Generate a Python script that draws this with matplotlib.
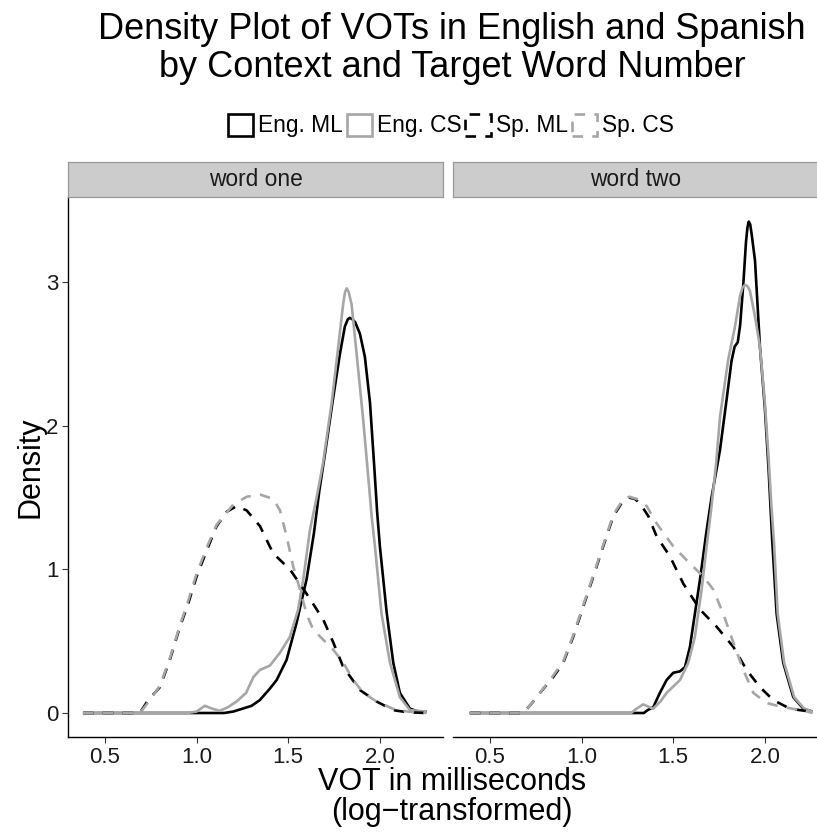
import matplotlib
matplotlib.use("Agg")
import matplotlib.pyplot as plt
from matplotlib.patches import Patch

plt.rcParams['font.family'] = ['Liberation Sans', 'DejaVu Sans']

# log VOT densities, panel "word one"
one_eng_ml_x = [0.38, 1.15, 1.20, 1.30, 1.345, 1.40, 1.437, 1.491, 1.546, 1.60, 1.64, 1.67, 1.70,
                1.74, 1.782, 1.809, 1.825, 1.836, 1.85, 1.865, 1.891, 1.918, 1.946, 1.97, 1.985,
                2.0, 2.037, 2.073, 2.109, 2.164, 2.21, 2.255]
one_eng_ml_y = [0.0, 0.0, 0.01, 0.05, 0.09, 0.17, 0.23, 0.37, 0.63, 0.93, 1.25, 1.55, 1.80,
                2.15, 2.50, 2.69, 2.74, 2.75, 2.74, 2.72, 2.64, 2.48, 2.16, 1.70, 1.40,
                1.16, 0.70, 0.35, 0.14, 0.03, 0.01, 0.01]

one_eng_cs_x = [0.38, 0.95, 1.00, 1.045, 1.085, 1.127, 1.17, 1.218, 1.27, 1.31, 1.346, 1.40, 1.455,
                1.509, 1.554, 1.582, 1.618, 1.655, 1.69, 1.737, 1.773, 1.80, 1.81, 1.819, 1.83,
                1.846, 1.873, 1.909, 1.936, 1.955, 1.973, 2.009, 2.055, 2.109, 2.164, 2.255]
one_eng_cs_y = [0.0, 0.0, 0.01, 0.05, 0.03, 0.015, 0.04, 0.08, 0.14, 0.25, 0.30, 0.33, 0.42,
                0.53, 0.72, 0.93, 1.27, 1.50, 1.74, 2.16, 2.55, 2.85, 2.93, 2.955, 2.93,
                2.84, 2.50, 2.04, 1.65, 1.37, 1.16, 0.69, 0.35, 0.11, 0.02, 0.01]

one_sp_ml_x = [0.38, 0.69, 0.736, 0.80, 0.854, 0.909, 0.954, 1.00, 1.055, 1.109, 1.164, 1.218,
               1.273, 1.346, 1.418, 1.509, 1.60, 1.691, 1.746, 1.80, 1.891, 1.982, 2.073, 2.15, 2.255]
one_sp_ml_y = [0.0, 0.0, 0.09, 0.18, 0.37, 0.60, 0.76, 0.95, 1.13, 1.30, 1.40, 1.44,
               1.41, 1.30, 1.11, 1.00, 0.83, 0.65, 0.49, 0.32, 0.16, 0.08, 0.02, 0.005, 0.0]

one_sp_cs_x = [0.38, 0.691, 0.745, 0.80, 0.854, 0.909, 0.954, 1.00, 1.055, 1.109, 1.20, 1.273,
               1.346, 1.418, 1.455, 1.491, 1.527, 1.564, 1.60, 1.636, 1.691, 1.746, 1.80, 1.855,
               1.909, 1.982, 2.07, 2.15, 2.255]
one_sp_cs_y = [0.0, 0.0, 0.09, 0.19, 0.38, 0.61, 0.78, 0.97, 1.15, 1.31, 1.45, 1.505,
               1.52, 1.49, 1.41, 1.23, 1.02, 0.86, 0.69, 0.58, 0.51, 0.44, 0.35, 0.23,
               0.14, 0.08, 0.03, 0.01, 0.0]

# log VOT densities, panel "word two"
two_eng_ml_x = [0.39, 1.34, 1.36, 1.391, 1.427, 1.464, 1.50, 1.537, 1.564, 1.591, 1.618, 1.646,
                1.682, 1.709, 1.755, 1.791, 1.818, 1.835, 1.852, 1.865, 1.882, 1.897, 1.905,
                1.912, 1.92, 1.928, 1.946, 1.973, 2.0, 2.02, 2.04, 2.064, 2.10, 2.155, 2.21, 2.26]
two_eng_ml_y = [0.0, 0.0, 0.02, 0.04, 0.14, 0.23, 0.28, 0.29, 0.32, 0.46, 0.69, 0.93,
                1.27, 1.50, 1.83, 2.18, 2.45, 2.55, 2.58, 2.70, 2.98, 3.28, 3.38,
                3.42, 3.40, 3.33, 3.15, 2.55, 2.12, 1.70, 1.20, 0.69, 0.35, 0.11, 0.03, 0.01]

two_eng_cs_x = [0.39, 1.27, 1.30, 1.336, 1.39, 1.43, 1.464, 1.537, 1.582, 1.618, 1.655, 1.682,
                1.709, 1.735, 1.755, 1.80, 1.837, 1.864, 1.878, 1.891, 1.905, 1.918, 1.946,
                1.973, 2.0, 2.02, 2.035, 2.05, 2.07, 2.105, 2.16, 2.215, 2.26]
two_eng_cs_y = [0.0, 0.0, 0.03, 0.06, 0.03, 0.08, 0.14, 0.23, 0.35, 0.53, 0.86, 1.16,
                1.44, 1.75, 2.06, 2.46, 2.69, 2.90, 2.96, 2.98, 2.97, 2.94, 2.76,
                2.55, 2.16, 1.78, 1.45, 1.18, 0.69, 0.35, 0.11, 0.03, 0.01]

two_sp_ml_x = [0.39, 0.682, 0.73, 0.773, 0.845, 0.90, 0.954, 1.009, 1.064, 1.118, 1.173, 1.218,
               1.255, 1.29, 1.318, 1.364, 1.409, 1.482, 1.555, 1.646, 1.737, 1.828, 1.90, 1.973,
               2.046, 2.137, 2.246, 2.26]
two_sp_ml_y = [0.0, 0.0, 0.07, 0.14, 0.25, 0.35, 0.53, 0.74, 0.95, 1.16, 1.37, 1.46,
               1.50, 1.49, 1.46, 1.37, 1.23, 1.09, 0.90, 0.72, 0.60, 0.46, 0.30, 0.18,
               0.09, 0.03, 0.01, 0.0]

two_sp_cs_x = [0.39, 0.682, 0.73, 0.773, 0.845, 0.90, 0.954, 1.009, 1.064, 1.118, 1.173, 1.218,
               1.26, 1.30, 1.355, 1.409, 1.50, 1.591, 1.664, 1.718, 1.773, 1.828, 1.882, 1.937,
               2.01, 2.082, 2.15, 2.23, 2.26]
two_sp_cs_y = [0.0, 0.0, 0.07, 0.14, 0.26, 0.36, 0.54, 0.75, 0.96, 1.17, 1.38, 1.47,
               1.505, 1.49, 1.44, 1.32, 1.16, 1.04, 0.95, 0.86, 0.69, 0.49, 0.30, 0.14,
               0.07, 0.045, 0.03, 0.01, 0.0]

groups = ["Eng. ML", "Eng. CS", "Sp. ML", "Sp. CS"]
facets = ["word one", "word two"]
x_ticks = [0.5, 1.0, 1.5, 2.0]
y_ticks = [0, 1, 2, 3]

panels = {
    "word one": [(one_eng_ml_x, one_eng_ml_y), (one_eng_cs_x, one_eng_cs_y),
                 (one_sp_ml_x, one_sp_ml_y), (one_sp_cs_x, one_sp_cs_y)],
    "word two": [(two_eng_ml_x, two_eng_ml_y), (two_eng_cs_x, two_eng_cs_y),
                 (two_sp_ml_x, two_sp_ml_y), (two_sp_cs_x, two_sp_cs_y)],
}

GREY = "#A6A6A6"
DASH = (0, (4, 3.5))
styles = [("black", "-"), (GREY, "-"), ("black", DASH), (GREY, DASH)]
LW = 1.9

W, H = 817, 832
fig = plt.figure(figsize=(W / 100, H / 100), dpi=100)

panel_left = [68.3, 453.3]
panel_w = 375
panel_top, panel_bot = 197, 737
strip_h = 35

for i, name in enumerate(facets):
    ax = fig.add_axes([panel_left[i] / W, (H - panel_bot) / H,
                       panel_w / W, (panel_bot - panel_top) / H])
    for (xs, ys), (col, ls) in zip(panels[name], styles):
        ax.plot(xs, ys, color=col, linestyle=ls, linewidth=LW,
                dash_capstyle="butt", solid_capstyle="butt", solid_joinstyle="round")
    ax.set_xlim(0.30, 2.346)
    ax.set_ylim(-0.167, 3.591)
    ax.set_xticks(x_ticks)
    ax.set_xticklabels([f"{v:.1f}" for v in x_ticks])
    for s in ["top", "right"]:
        ax.spines[s].set_visible(False)
    ax.spines["bottom"].set_linewidth(1.0)
    ax.spines["left"].set_linewidth(1.0)
    ax.tick_params(axis="both", direction="out", length=4, width=0.8,
                   color="#333333", labelsize=16, labelcolor="#1a1a1a", pad=3)
    if i == 0:
        ax.set_yticks(y_ticks)
    else:
        ax.spines["left"].set_visible(False)
        ax.set_yticks([])

    # facet strip
    sx = fig.add_axes([panel_left[i] / W, (H - panel_top) / H,
                       panel_w / W, strip_h / H])
    sx.set_facecolor("#CCCCCC")
    sx.set_xticks([])
    sx.set_yticks([])
    for s in sx.spines.values():
        s.set_color("#999999")
        s.set_linewidth(0.9)
    # keep the label centred on the visible part of the strip
    vis_right = min(panel_left[i] + panel_w, W)
    cx = ((panel_left[i] + vis_right) / 2 - panel_left[i]) / panel_w
    sx.text(cx, 0.5, name, transform=sx.transAxes, ha="center", va="center",
            fontsize=16.4, color="#1a1a1a")

fig.text(452 / W, 1 - 77 / H,
         "Density Plot of VOTs in English and Spanish\nby Context and Target Word Number",
         ha="center", va="baseline", fontsize=26, linespacing=1.1)

fig.text(452 / W, 1 - 820 / H, "VOT in milliseconds\n(log\u2212transformed)",
         ha="center", va="baseline", fontsize=22, linespacing=1.0)
fig.text(31 / W, 1 - 467 / H, "Density", rotation=90,
         ha="center", va="center", fontsize=22)

handles = [Patch(facecolor="none", edgecolor=col, linestyle=ls, linewidth=LW)
           for col, ls in styles]
fig.legend(handles, groups, loc="center", bbox_to_anchor=(451 / W, 1 - 125.5 / H),
           ncol=4, frameon=False, fontsize=16.4, handlelength=1.1, handleheight=1.1,
           handletextpad=0.25, columnspacing=0.15, borderaxespad=0, borderpad=0)

fig.savefig("out.png", dpi=100)
